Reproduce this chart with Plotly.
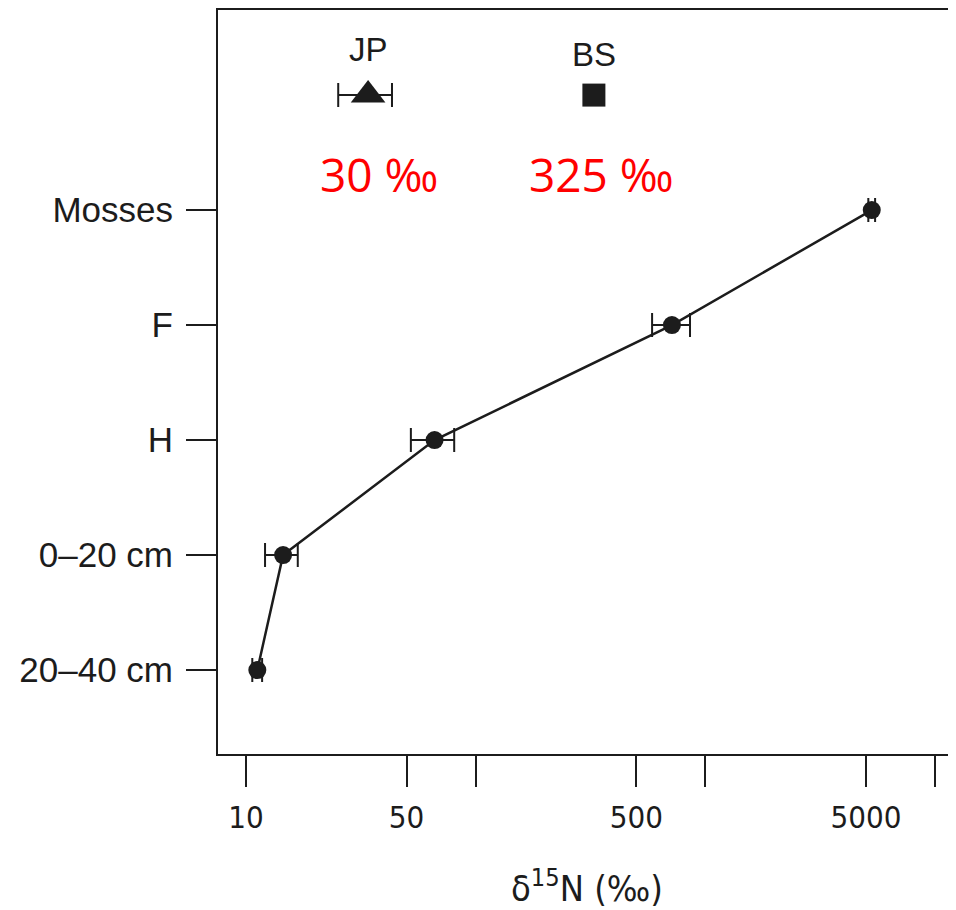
import numpy as np
import plotly.graph_objects as go

# ---- data ----
layers = ["20–40 cm", "0–20 cm", "H", "F", "Mosses"]
layer_pos = [0, 1, 2, 3, 4]
d15n = [11.2, 14.5, 66.2, 715, 5300]
err_plus = [0.55, 2.3, 14.4, 142, 180]
err_minus = [0.55, 2.4, 14.0, 129, 180]

tracer_names = ["JP", "BS"]
tracer_vals = [34.0, 327]
tracer_err_plus = [9.2, 0]
tracer_err_minus = [8.8, 0]
tracer_row = 5
tracer_notes = ["30 ‰", "325 ‰"]

x_tickvals = [10, 50, 100, 500, 1000, 5000, 10000]
x_ticktext = ["10", "50", "", "500", "", "5000", ""]

INK = "#1c1c1c"
fig = go.Figure()

fig.add_trace(go.Scatter(
    x=d15n, y=layer_pos, mode="lines+markers",
    line=dict(color=INK, width=2.5),
    marker=dict(symbol="circle", size=18, color=INK),
    error_x=dict(type="data", array=err_plus, arrayminus=err_minus,
                 color=INK, thickness=2, width=12, symmetric=False),
    showlegend=False, hoverinfo="skip"))

fig.add_trace(go.Scatter(
    x=[tracer_vals[0]], y=[tracer_row], mode="markers",
    marker=dict(symbol="triangle-up", size=30, color=INK),
    error_x=dict(type="data", array=[tracer_err_plus[0]], arrayminus=[tracer_err_minus[0]],
                 color=INK, thickness=2, width=12, symmetric=False),
    showlegend=False, hoverinfo="skip"))

fig.add_trace(go.Scatter(
    x=[tracer_vals[1]], y=[tracer_row], mode="markers",
    marker=dict(symbol="square", size=23, color=INK),
    showlegend=False, hoverinfo="skip"))

# labels above tracer symbols
for name, v, ys in zip(tracer_names, tracer_vals, [25, 20]):
    fig.add_annotation(x=np.log10(v), y=tracer_row, text=name, showarrow=False,
                       yanchor="bottom", yshift=ys,
                       font=dict(family="Liberation Sans, Arial, sans-serif", size=33, color=INK))

# red notes
for note, v, xs in zip(tracer_notes, tracer_vals, [11, 8]):
    fig.add_annotation(x=np.log10(v), y=tracer_row, text=note, showarrow=False,
                       xshift=xs, yshift=-79, yanchor="middle",
                       font=dict(family="Open Sans, Noto Sans, sans-serif", size=46, color="#ff0000"))

# page body has an 8px margin; size the figure so the plot area lands where the reference has it
fig.update_layout(
    width=948, height=902,
    margin=dict(l=210, r=0, t=2, b=156),
    paper_bgcolor="white", plot_bgcolor="white",
    xaxis=dict(
        type="log", range=[0.878, 4.091],
        tickvals=x_tickvals, ticktext=x_ticktext,
        ticks="outside", ticklen=31, tickwidth=2, tickcolor=INK,
        showline=True, mirror=True, linewidth=2, linecolor=INK,
        showgrid=False, zeroline=False,
        ticklabelstandoff=4,
        tickfont=dict(family="Liberation Sans Narrow, DejaVu Sans Condensed, sans-serif", size=31, color=INK),
        title=dict(text="δ<sup>15</sup>N (‰)", standoff=42,
                   font=dict(family="Liberation Sans Narrow, DejaVu Sans Condensed, sans-serif", size=36, color=INK)),
    ),
    yaxis=dict(
        range=[-0.73, 5.74],
        tickvals=layer_pos, ticktext=layers,
        ticks="outside", ticklen=30, tickwidth=2, tickcolor=INK,
        showline=True, mirror=False, linewidth=2, linecolor=INK,
        showgrid=False, zeroline=False,
        ticklabelstandoff=6,
        tickfont=dict(family="Liberation Sans, Arial, sans-serif", size=35, color=INK),
    ),
)

fig.write_html("out.html")
